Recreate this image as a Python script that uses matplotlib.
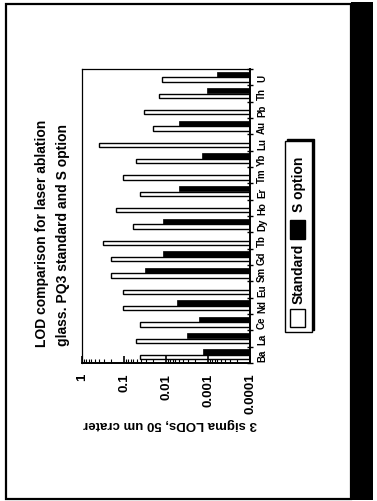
import numpy as np
import matplotlib
matplotlib.use("Agg")
import matplotlib.pyplot as plt
from matplotlib.patches import Rectangle
from matplotlib.ticker import LogLocator, NullFormatter

elements = ["Ba", "La", "Ce", "Nd", "Eu", "Sm", "Gd", "Tb", "Dy",
            "Ho", "Er", "Tm", "Yb", "Lu", "Au", "Pb", "Th", "U"]
standard = [0.042, 0.052, 0.042, 0.104, 0.104, 0.207, 0.207, 0.32, 0.062,
            0.155, 0.042, 0.104, 0.052, 0.39, 0.020, 0.033, 0.015, 0.0122]
s_option = [0.0013, 0.0031, 0.0016, 0.0055, np.nan, 0.032, 0.0116, np.nan, 0.0116,
            np.nan, 0.0048, np.nan, 0.0014, np.nan, 0.0048, np.nan, 0.00107, 0.00062]
series_names = ["Standard", "S option"]
value_ticks = [1, 0.1, 0.01, 0.001, 0.0001]
value_labels = ["1", "0.1", "0.01", "0.001", "0.0001"]
title_lines = ["LOD comparison for laser ablation", "glass. PQ3 standard and S option"]
value_label = "3 sigma LODs, 50 um crater"

plt.rcParams['font.family'] = ['Liberation Sans', 'DejaVu Sans']
plt.rcParams['font.weight'] = 'bold'

W, H = 377, 502
fig = plt.figure(figsize=(W / 100, H / 100), dpi=100)

def fx(px):
    return px / W

def fy(py):
    return 1 - py / H

# page is rotated 90 deg, so bars run right-to-left, categories bottom-to-top
ax = fig.add_axes([fx(82), fy(364), fx(250) - fx(82), fy(70) - fy(364)])

base = 1e-4
y = np.arange(len(elements))
std = np.array(standard)
sop = np.array(s_option)
ax.barh(y - 0.14, std - base, left=base, height=0.27,
        color="white", edgecolor="black", linewidth=1.0)
ok = ~np.isnan(sop)
ax.barh(y[ok] + 0.17, sop[ok] - base, left=base, height=0.32,
        color="black", edgecolor="black", linewidth=0.5)

ax.set_xscale("log")
ax.set_xlim(1, base)
ax.set_ylim(-0.5, len(elements) - 0.5)

ax.set_xticks(value_ticks)
ax.set_xticklabels(value_labels, rotation=90, va="top", ha="center", fontsize=9.5)
ax.xaxis.set_minor_locator(LogLocator(base=10, subs=np.arange(2, 10)))
ax.xaxis.set_minor_formatter(NullFormatter())
ax.tick_params(axis="x", which="major", direction="in", length=5, width=1.2, pad=7)
ax.tick_params(axis="x", which="minor", direction="in", length=3, width=0.8)

ax.yaxis.tick_right()
ax.set_yticks(np.arange(-0.5, len(elements), 1))
ax.yaxis.set_major_formatter(NullFormatter())
ax.set_yticks(y, minor=True)
ax.set_yticklabels(elements, minor=True, rotation=90, va="center", fontsize=7)
ax.tick_params(axis="y", which="major", direction="inout", length=5, width=1.0)
ax.tick_params(axis="y", which="minor", length=0, pad=5)

for side, lw in [("left", 0.9), ("top", 0.9), ("right", 1.4), ("bottom", 1.4)]:
    ax.spines[side].set_linewidth(lw)

# title (left of the rotated plot) and value label (upside down, below)
fig.text(fx(42), fy(233), title_lines[0], rotation=90, ha="center", va="center", fontsize=10)
fig.text(fx(63), fy(235), title_lines[1], rotation=90, ha="center", va="center", fontsize=10)
fig.text(fx(170), fy(424), value_label, rotation=180, ha="center", va="center", fontsize=9.5)

# legend box drawn by hand, text rotated like the rest
tf = fig.transFigure
fig.add_artist(Rectangle((fx(287), fy(331)), fx(312) - fx(285), fy(142) - fy(333),
                         facecolor="black", edgecolor="black", transform=tf))
fig.add_artist(Rectangle((fx(285), fy(333)), fx(312) - fx(285), fy(142) - fy(333),
                         facecolor="white", edgecolor="black", linewidth=1.0, transform=tf))
fig.add_artist(Rectangle((fx(290), fy(328)), fx(305) - fx(290), fy(310) - fy(328),
                         facecolor="white", edgecolor="black", linewidth=1.0, transform=tf))
fig.add_artist(Rectangle((fx(290), fy(240)), fx(305) - fx(290), fy(221) - fy(240),
                         facecolor="black", edgecolor="black", linewidth=1.0, transform=tf))
fig.text(fx(299), fy(274), series_names[0], rotation=90, ha="center", va="center", fontsize=10)
fig.text(fx(299), fy(184), series_names[1], rotation=90, ha="center", va="center", fontsize=10)

# page frame and dark strip at the right edge of the scan
fig.add_artist(Rectangle((fx(6), fy(500)), fx(351) - fx(6), fy(5) - fy(500),
                         fill=False, edgecolor="black", linewidth=1.6, transform=tf))
fig.add_artist(Rectangle((fx(351), fy(501)), fx(373) - fx(351), fy(3) - fy(501),
                         facecolor="black", edgecolor="none", transform=tf))

fig.savefig("out.png", dpi=100)
